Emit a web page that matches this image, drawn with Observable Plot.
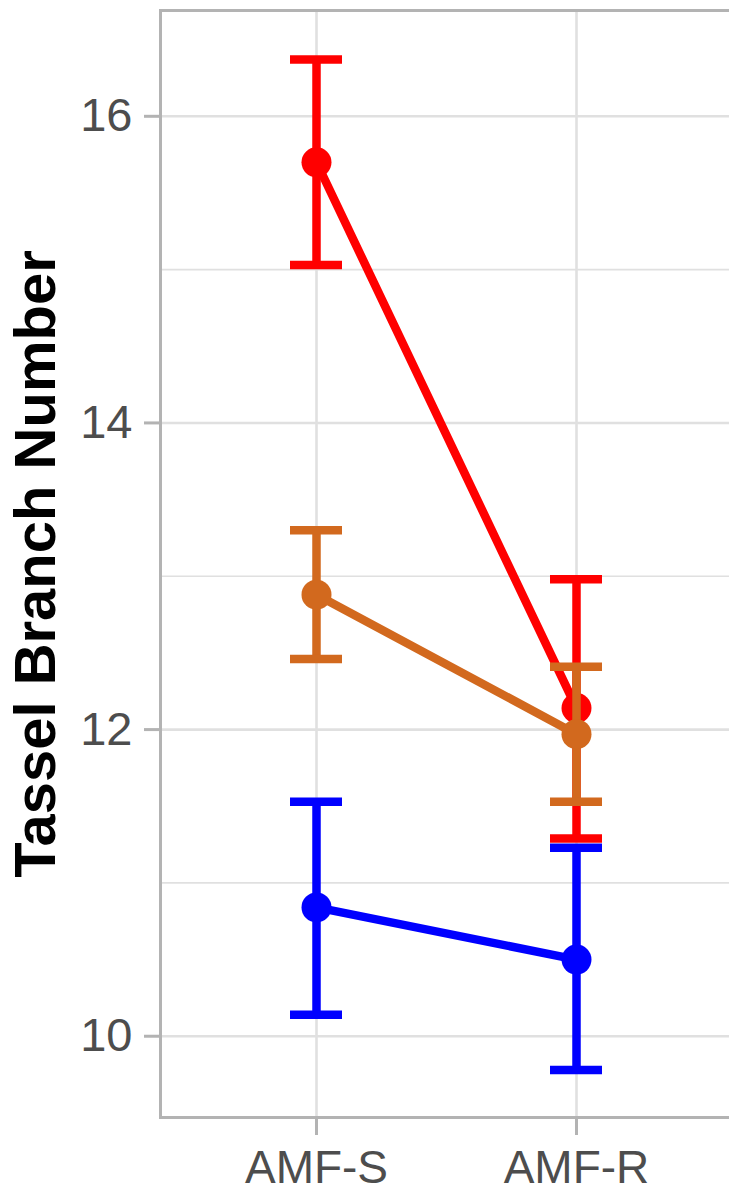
<!DOCTYPE html>
<html>
<head>
<meta charset="utf-8">
<script src="https://cdn.jsdelivr.net/npm/d3@7"></script>
<script src="https://cdn.jsdelivr.net/npm/@observablehq/plot@0.6"></script>
<style>
  html, body { margin: 0; padding: 0; background: white; }
</style>
</head>
<body>
<div id="chart"></div>
<script>
// Categories (x axis)
const categories = ["AMF-S", "AMF-R"];

// Series values (means and error-bar bounds), drawn in this order
const seriesNames = ["blue", "red", "orange"];
const seriesColors = ["#0000FF", "#FF0000", "#D2691E"];

const blueMean = [10.84, 10.50];
const blueLow = [10.14, 9.78];
const blueHigh = [11.53, 11.23];

const redMean = [15.70, 12.14];
const redLow = [15.03, 11.29];
const redHigh = [16.37, 12.98];

const orangeMean = [12.88, 11.97];
const orangeLow = [12.46, 11.53];
const orangeHigh = [13.30, 12.41];

// Tick values
const yMajorTicks = [10, 12, 14, 16];
const yMinorTicks = [11, 13, 15];
const yTitle = "Tassel Branch Number";

const means = [blueMean, redMean, orangeMean];
const lows = [blueLow, redLow, orangeLow];
const highs = [blueHigh, redHigh, orangeHigh];

const rows = seriesNames.map((s, k) =>
  categories.map((c, i) => ({
    series: s,
    category: c,
    pos: i + 1,
    mean: means[k][i],
    low: lows[k][i],
    high: highs[k][i]
  }))
);
const xPositions = categories.map((c, i) => i + 1);

const gridColor = "#e0e0e0";
const borderColor = "#b3b3b3";
const lw = 8.5;
const capHalf = 0.1;

const seriesMarks = rows.flatMap((data, k) => [
  Plot.ruleX(data, {x: "pos", y1: "low", y2: "high", stroke: seriesColors[k], strokeWidth: lw}),
  Plot.ruleY(data, {y: "low", x1: d => d.pos - capHalf, x2: d => d.pos + capHalf, stroke: seriesColors[k], strokeWidth: lw}),
  Plot.ruleY(data, {y: "high", x1: d => d.pos - capHalf, x2: d => d.pos + capHalf, stroke: seriesColors[k], strokeWidth: lw}),
  Plot.line(data, {x: "pos", y: "mean", stroke: seriesColors[k], strokeWidth: lw}),
  Plot.dot(data, {x: "pos", y: "mean", r: 15, fill: seriesColors[k], stroke: "none"})
]);

const chart = Plot.plot({
  width: 729,
  height: 1192,
  marginLeft: 160,
  marginRight: -3,
  marginTop: 10,
  marginBottom: 75,
  style: {
    fontFamily: "'Liberation Sans', Arial, sans-serif",
    background: "white"
  },
  x: {type: "linear", domain: [0.4, 2.6]},
  y: {domain: [9.47, 16.69]},
  marks: [
    Plot.ruleY(yMinorTicks, {stroke: gridColor, strokeWidth: 1.6}),
    Plot.ruleY(yMajorTicks, {stroke: gridColor, strokeWidth: 2.6}),
    Plot.ruleX(xPositions, {stroke: gridColor, strokeWidth: 2.6}),
    Plot.frame({stroke: borderColor, strokeWidth: 3}),
    Plot.axisY(yMajorTicks, {
      tickSize: 16, tickPadding: 12, fontSize: 47,
      tickFormat: d => String(d),
      stroke: borderColor, strokeWidth: 3, fill: "#4d4d4d", label: null
    }),
    Plot.axisX(xPositions, {
      tickSize: 18, tickPadding: 15, fontSize: 46,
      tickFormat: i => categories[i - 1],
      stroke: borderColor, strokeWidth: 3, fill: "#4d4d4d", label: null
    }),
    Plot.text([yTitle], {
      text: d => d, frameAnchor: "left", textAnchor: "middle", rotate: -90, dx: -124,
      fontSize: 58, fontWeight: "bold", fill: "black"
    }),
    ...seriesMarks
  ]
});

document.getElementById("chart").appendChild(chart);
</script>
</body>
</html>
